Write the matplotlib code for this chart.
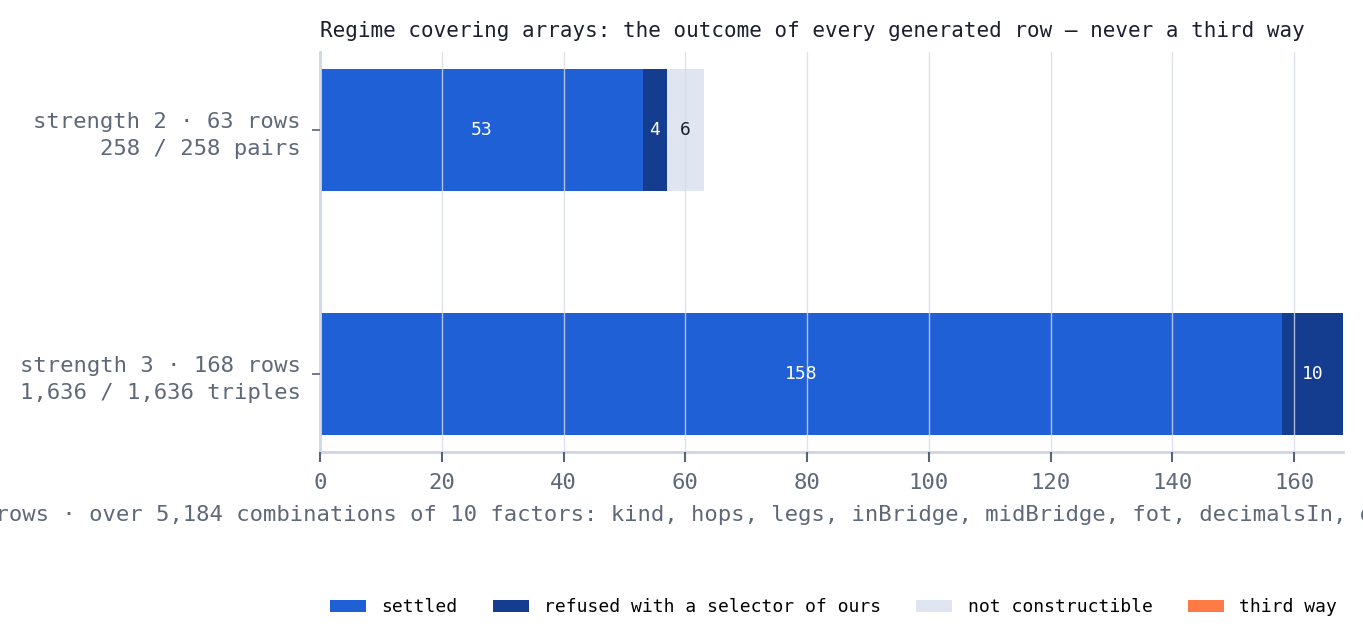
import matplotlib
matplotlib.use("Agg")
import matplotlib.pyplot as plt
import numpy as np

# data
categories = ["strength 2 · 63 rows\n258 / 258 pairs",
              "strength 3 · 168 rows\n1,636 / 1,636 triples"]
settled = [53, 158]
refused = [4, 10]
not_constructible = [6, 0]
third_way = [0, 0]
series_names = ["settled", "refused with a selector of ours",
                "not constructible", "third way"]
xticks = [0, 20, 40, 60, 80, 100, 120, 140, 160]

colors = ["#1f60d6", "#143c8f", "#dfe5f1", "#ff7a45"]
label_colors = ["white", "white", "#1b1f2e", "white"]

plt.rcParams['font.family'] = ['DejaVu Sans Mono', 'DejaVu Sans']

fig = plt.figure(figsize=(13.63, 6.42), dpi=100)
ax = fig.add_axes([0.2348, 0.296, 0.7505, 0.623])

y = np.arange(len(categories))[::-1]
left = np.zeros(len(categories))
for name, vals, c, lc in zip(series_names,
                             [settled, refused, not_constructible, third_way],
                             colors, label_colors):
    vals = np.array(vals, dtype=float)
    bars = ax.barh(y, vals, left=left, height=0.5, color=c, label=name, zorder=1)
    for b, v in zip(bars, vals):
        if v > 0:
            ax.text(b.get_x() + b.get_width() / 2, b.get_y() + b.get_height() / 2,
                    "%d" % v, ha="center", va="center", color=lc, fontsize=13,
                    zorder=3)
    left += vals

ax.set_xlim(0, 168)
ax.set_ylim(-0.32, 1.32)
ax.set_yticks(y)
ax.set_yticklabels(categories, fontsize=16, color="#5f6878", linespacing=1.45)
ax.set_xticks(xticks)
ax.set_xticklabels([str(t) for t in xticks], fontsize=16, color="#5f6878")
ax.tick_params(axis="x", length=7, width=1.5, color="#5b6474", pad=8)
ax.tick_params(axis="y", length=6, width=1.2, color="#5b6474", pad=8)

ax.grid(axis="x", color="#d5dbe7", alpha=0.8, linewidth=1, zorder=2)
ax.set_axisbelow(False)
for s in ["top", "right"]:
    ax.spines[s].set_visible(False)
for s in ["left", "bottom"]:
    ax.spines[s].set_color("#cfd5e2")
    ax.spines[s].set_linewidth(2)

# the reference cuts this label off at both figure edges
ax.set_xlabel("231 rows · over 5,184 combinations of 10 factors: kind, hops, legs, "
              "inBridge, midBridge, fot, decimalsIn, decimalsOut, feeMode, quote",
              fontsize=16, color="#5f6878", labelpad=9)
ax.set_title("Regime covering arrays: the outcome of every generated row — never a third way",
             loc="left", fontsize=15, color="#1b1f2e", pad=11)

fig.legend(loc="lower right", bbox_to_anchor=(0.993, 0.015), ncol=4, frameon=False,
           fontsize=13, handlelength=2.0, handleheight=0.65, handletextpad=0.85,
           columnspacing=1.95)

fig.savefig("out.png", dpi=100)
